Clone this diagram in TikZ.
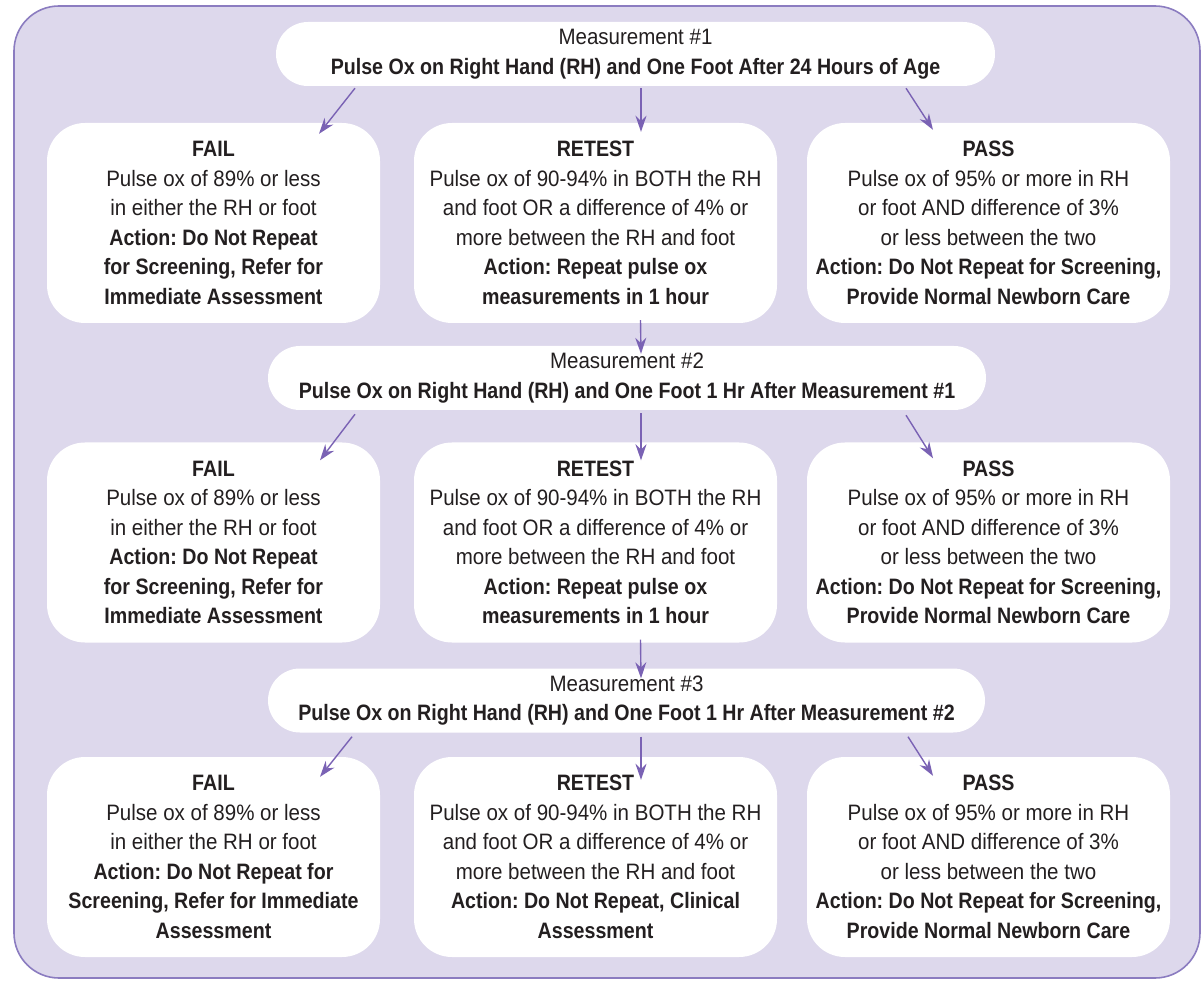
\documentclass[tikz,border=0pt]{standalone}
\usepackage{fontspec}
\setmainfont{Liberation Sans}[FakeStretch=0.92,BoldFeatures={FakeStretch=0.88}]
\usetikzlibrary{arrows.meta,calc}
\definecolor{bgl}{HTML}{DDD8EC}
\definecolor{frm}{HTML}{8B7CC0}
\definecolor{arrc}{HTML}{7A62B4}
\definecolor{txt}{HTML}{231F20}
\frenchspacing
\begin{document}
\begin{tikzpicture}[x=1pt,y=-1pt,
  txtfont/.style={font=\fontsize{22.3}{29.5}\selectfont},
  resbox/.style={fill=white, draw=none, rounded corners=38pt, align=center, text=txt, inner sep=0pt, txtfont},
  meas/.style={fill=white, draw=none, rounded corners=32pt, align=center, text=txt, inner sep=0pt, minimum height=64pt, txtfont},
  flow/.style={draw=arrc, line width=1.4pt, -{Stealth[length=16pt,width=11pt]}}]
\useasboundingbox (0,0) rectangle (1203,981);
\draw[frm, line width=1.6pt, fill=bgl, rounded corners=45pt] (14,6) rectangle (1200,978);

% Measurement 1
\node[meas, minimum width=719pt] (m1) at (635.5,54) {Measurement \#1\\ \textbf{Pulse Ox on Right Hand (RH) and One Foot After 24 Hours of Age}};
\node[resbox, minimum width=333pt, minimum height=200pt] (f1) at (213.5,223) {\textbf{FAIL}\\Pulse ox of 89\% or less\\in either the RH or foot\\\textbf{Action: Do Not Repeat}\\\textbf{for Screening, Refer for}\\\textbf{Immediate Assessment}};
\node[resbox, minimum width=363pt, minimum height=200pt] (r1) at (595.5,223) {\textbf{RETEST}\\Pulse ox of 90-94\% in BOTH the RH\\and foot OR a difference of 4\% or\\more between the RH and foot\\\textbf{Action: Repeat pulse ox}\\\textbf{measurements in 1 hour}};
\node[resbox, minimum width=363pt, minimum height=200pt] (p1) at (988.5,223) {\textbf{PASS}\\Pulse ox of 95\% or more in RH\\or foot AND difference of 3\%\\or less between the two\\\textbf{Action: Do Not Repeat for Screening,}\\\textbf{Provide Normal Newborn Care}};

% Measurement 2
\node[meas, minimum width=718pt] (m2) at (627,378) {Measurement \#2\\ \textbf{Pulse Ox on Right Hand (RH) and One Foot 1 Hr After Measurement \#1}};
\node[resbox, minimum width=333pt, minimum height=200pt] (f2) at (213.5,542.5) {\textbf{FAIL}\\Pulse ox of 89\% or less\\in either the RH or foot\\\textbf{Action: Do Not Repeat}\\\textbf{for Screening, Refer for}\\\textbf{Immediate Assessment}};
\node[resbox, minimum width=363pt, minimum height=200pt] (r2) at (595.5,542.5) {\textbf{RETEST}\\Pulse ox of 90-94\% in BOTH the RH\\and foot OR a difference of 4\% or\\more between the RH and foot\\\textbf{Action: Repeat pulse ox}\\\textbf{measurements in 1 hour}};
\node[resbox, minimum width=363pt, minimum height=200pt] (p2) at (988.5,542.5) {\textbf{PASS}\\Pulse ox of 95\% or more in RH\\or foot AND difference of 3\%\\or less between the two\\\textbf{Action: Do Not Repeat for Screening,}\\\textbf{Provide Normal Newborn Care}};

% Measurement 3
\node[meas, minimum width=717pt] (m3) at (626.5,700.5) {Measurement \#3\\ \textbf{Pulse Ox on Right Hand (RH) and One Foot 1 Hr After Measurement \#2}};
\node[resbox, minimum width=333pt, minimum height=200pt] (f3) at (213.5,857) {\textbf{FAIL}\\Pulse ox of 89\% or less\\in either the RH or foot\\\textbf{Action: Do Not Repeat for}\\\textbf{Screening, Refer for Immediate}\\\textbf{Assessment}};
\node[resbox, minimum width=363pt, minimum height=200pt] (r3) at (595.5,857) {\textbf{RETEST}\\Pulse ox of 90-94\% in BOTH the RH\\and foot OR a difference of 4\% or\\more between the RH and foot\\\textbf{Action: Do Not Repeat, Clinical}\\\textbf{Assessment}};
\node[resbox, minimum width=363pt, minimum height=200pt] (p3) at (988.5,857) {\textbf{PASS}\\Pulse ox of 95\% or more in RH\\or foot AND difference of 3\%\\or less between the two\\\textbf{Action: Do Not Repeat for Screening,}\\\textbf{Provide Normal Newborn Care}};

% connectors row 1
\draw[flow] ($(m1.south)+(-280.5,2)$) -- ($(f1.north)+(105.5,11)$);
\draw[flow] ($(m1.south)+(5.5,2)$) -- ($(r1.north)+(45.5,9)$);
\draw[flow] ($(m1.south)+(270.5,2)$) -- ($(p1.north)+(-55.5,7)$);
\draw[flow] ($(r1.south)+(45,-3)$) -- ($(m2.north)+(14,8)$);
% row 2
\draw[flow] ($(m2.south)+(-272,4)$) -- ($(f2.north)+(106.5,18)$);
\draw[flow] ($(m2.south)+(14,3)$) -- ($(r2.north)+(45.5,18)$);
\draw[flow] ($(m2.south)+(279,5)$) -- ($(p2.north)+(-55.5,16)$);
\draw[flow] ($(r2.south)+(45,-3)$) -- ($(m3.north)+(14.5,10)$);
% row 3
\draw[flow] ($(m3.south)+(-274.5,4)$) -- ($(f3.north)+(106.5,20)$);
\draw[flow] ($(m3.south)+(14.5,4)$) -- ($(r3.north)+(45.5,23)$);
\draw[flow] ($(m3.south)+(281.5,4)$) -- ($(p3.north)+(-55.5,19)$);
\end{tikzpicture}
\end{document}
